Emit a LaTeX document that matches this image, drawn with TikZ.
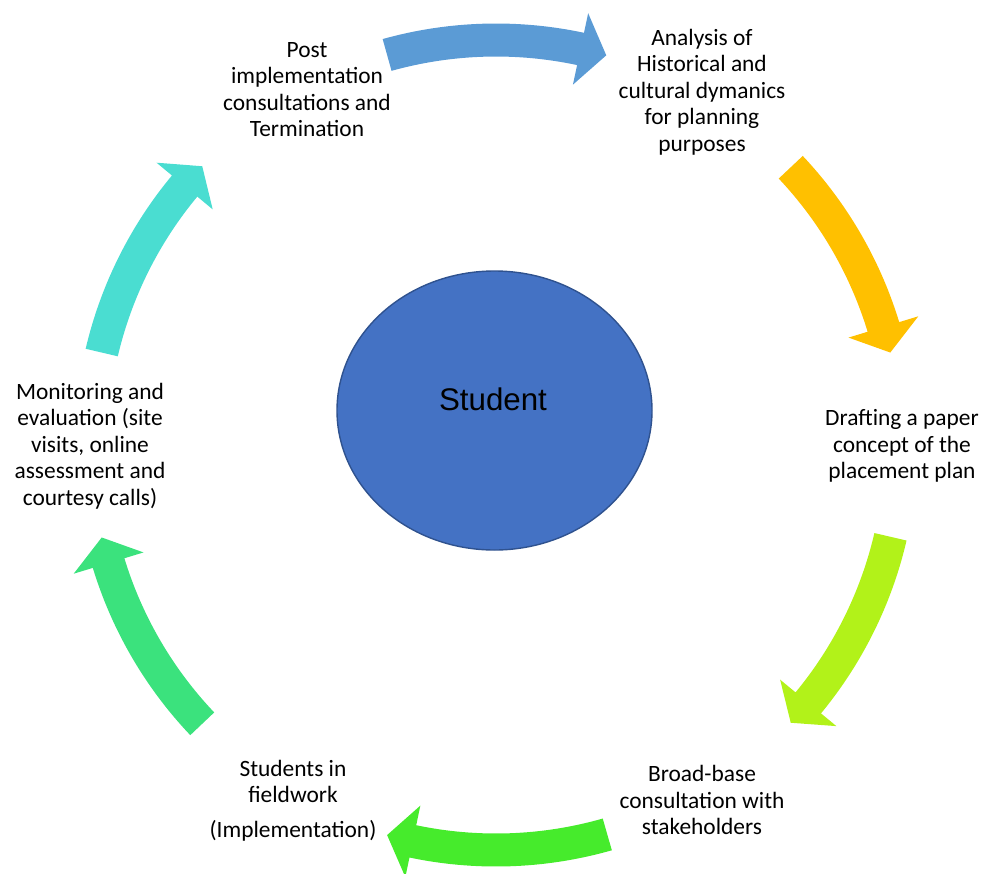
\documentclass[tikz,border=0pt]{standalone}
\usepackage{fontspec}
\setmainfont{Carlito}
\newfontfamily\arialfont{Liberation Sans}
\usetikzlibrary{shapes.geometric}

\definecolor{arrowA}{HTML}{5B9BD5}
\definecolor{arrowB}{HTML}{FFC000}
\definecolor{arrowC}{HTML}{B2F219}
\definecolor{arrowD}{HTML}{46EB2C}
\definecolor{arrowE}{HTML}{3BE27D}
\definecolor{arrowF}{HTML}{4ADDD1}
\definecolor{hubfill}{HTML}{4472C4}
\definecolor{hubline}{HTML}{2F528F}

\tikzset{
  x=1pt, y=1pt,
  steplabel/.style={align=center, font=\fontsize{23.4}{26.4}\selectfont, text=black, inner sep=0pt},
  hub/.style={ellipse, fill=hubfill, draw=hubline, line width=1.4pt,
               minimum width=315pt, minimum height=279pt, inner sep=0pt},
}

\begin{document}
\begin{tikzpicture}
\useasboundingbox (0,0) rectangle (987,-873);

% central hub
\node[hub] (hub) at (494.5,-410.5) {};
\node[font=\arialfont\fontsize{31.3}{36}\selectfont, inner sep=0pt] (hubtext) at (493,-399) {Student};

% curved block arrows around the cycle (clockwise)
\begin{scope}[shift={(496,-445)}]
  \def\R{405}\def\w{16.5}\def\hw{36.5}\def\hl{3.75}
  \foreach \col/\s/\t in {arrowA/105.6/74.2, arrowB/43.3/13.2, arrowC/-13.1/-43.3,
                          arrowD/-74.05/-105.6, arrowE/-136.5/-166.8, arrowF/166.8/136.5}{
    \pgfmathsetmacro\b{\t+\hl}
    \fill[\col] (\s:\R+\w) arc[start angle=\s, end angle=\b, radius=\R+\w]
      -- (\b:\R+\hw) -- (\t:\R) -- (\b:\R-\hw) -- (\b:\R-\w)
      arc[start angle=\b, end angle=\s, radius=\R-\w] -- cycle;
  }
\end{scope}

% step labels
\node[steplabel] (post) at (307,-89.5) {Post\\implementation\\consultations and\\Termination};
\node[steplabel] (analysis) at (702,-92) {Analysis of\\Historical and\\cultural dymanics\\for planning\\purposes};
\node[steplabel] (draft) at (902,-446) {Drafting a paper\\concept of the\\placement plan};
\node[steplabel] (broad) at (702,-800) {Broad-base\\consultation with\\stakeholders};
\node[steplabel] (field) at (293,-800.5) {Students in\\fieldwork\\[8.7pt](Implementation)};
\node[steplabel] (monitor) at (90,-446) {Monitoring and\\evaluation (site\\visits, online\\assessment and\\courtesy calls)};
\end{tikzpicture}
\end{document}
